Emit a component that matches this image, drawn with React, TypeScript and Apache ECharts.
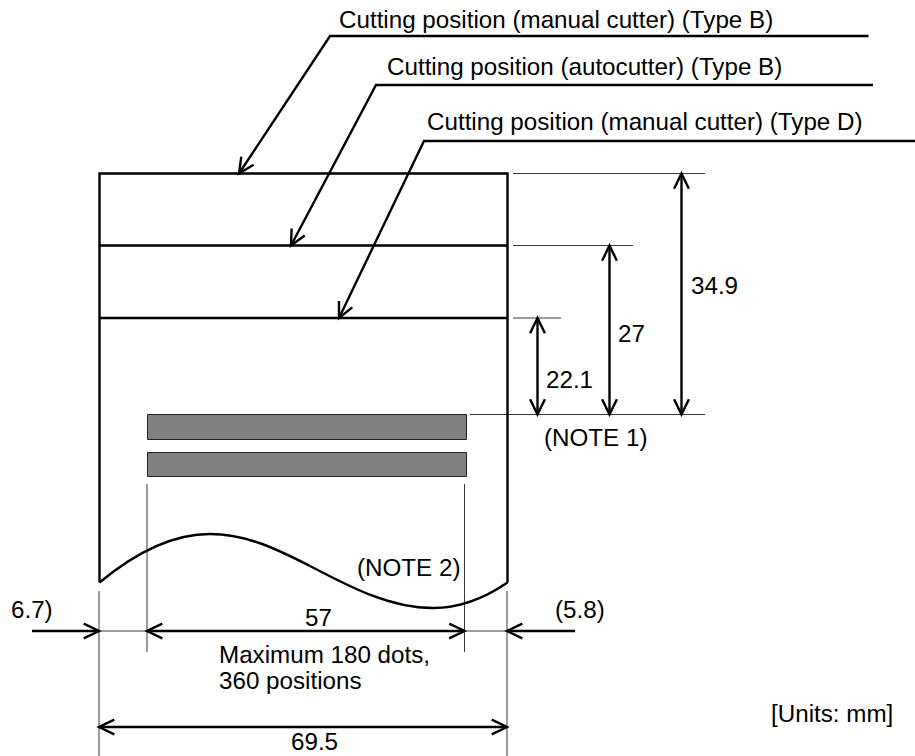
import React, { useEffect, useRef } from "react";
import * as echarts from "echarts";

type P = [number, number];

const FONT = '24.2px "Liberation Sans", Arial, sans-serif';

const labels: [string, number, number][] = [
  ["Cutting position (manual cutter) (Type B)", 339, 19.5],
  ["Cutting position (autocutter) (Type B)", 387, 66.5],
  ["Cutting position (manual cutter) (Type D)", 427, 121.5],
  ["34.9", 691, 285],
  ["27", 618, 333],
  ["22.1", 546, 379],
  ["(NOTE 1)", 544, 437],
  ["(NOTE 2)", 357, 567.5],
  ["6.7)", 11, 609],
  ["(5.8)", 555, 609],
  ["57", 305, 617.5],
  ["Maximum 180 dots,", 219, 654.5],
  ["360 positions", 219, 680],
  ["[Units: mm]", 771, 713],
  ["69.5", 291, 741],
];

const paperOutline: P[] = [[99.5, 582.5], [99.5, 173.5], [507.5, 173.5], [507.5, 582.5]];
const cutLines: P[][] = [
  [[99.5, 245.5], [507.5, 245.5]],
  [[99.5, 318], [507.5, 318]],
];
const leaders: P[][] = [
  [[868.5, 36], [330, 36], [239, 173.5]],
  [[873, 85], [376, 85], [291, 245.5]],
  [[915, 141], [424, 141], [339, 318]],
];
const extensionLines: P[][] = [
  [[513, 173.5], [705, 173.5]],
  [[513, 245.5], [633, 245.5]],
  [[513, 318], [561, 318]],
  [[470, 414.5], [705, 414.5]],
  [[147, 484], [147, 652]],
  [[464.5, 484], [464.5, 652]],
  [[99, 591], [99, 756]],
  [[507, 591], [507, 756]],
  [[99, 631], [147, 631]],
  [[465, 631], [507, 631]],
];
const dimensionsBothEnds: [P, P][] = [
  [[537.5, 318], [537.5, 414.5]],
  [[609.5, 245.5], [609.5, 414.5]],
  [[681.5, 173.5], [681.5, 414.5]],
  [[147, 631], [464.5, 631]],
  [[99, 727], [507, 727]],
];
const dimensionsOneEnd: [P, P][] = [
  [[32, 631], [99, 631]],
  [[575, 631], [507, 631]],
];
const printBars: [number, number, number, number][] = [
  [147, 414, 319, 25],
  [147, 452, 319, 24],
];
const curve: P[][] = [
  [[99.5, 582.5], [135, 553], [172, 534], [210, 534]],
  [[210, 534], [245, 534], [275, 548], [310, 566]],
  [[310, 566], [350, 587], [390, 608], [433, 608]],
  [[433, 608], [458, 608], [482, 600], [507.5, 582.5]],
];

type Item =
  | { k: "line"; pts: P[]; w: number; c: string }
  | { k: "bar"; r: number[] }
  | { k: "curve"; pts: P[] }
  | { k: "text"; t: string; x: number; y: number };

function head(tip: P, from: P): P[] {
  const a = Math.atan2(from[1] - tip[1], from[0] - tip[0]);
  const len = 17;
  const sp = 0.45;
  return [
    [tip[0] + len * Math.cos(a + sp), tip[1] + len * Math.sin(a + sp)],
    tip,
    [tip[0] + len * Math.cos(a - sp), tip[1] + len * Math.sin(a - sp)],
  ];
}

const items: Item[] = [];
const BLACK = "#000000";
const HEAVY = 2.4;
printBars.forEach((r) => items.push({ k: "bar", r }));
extensionLines.forEach((pts) => items.push({ k: "line", pts, w: 1, c: "#3a3a3a" }));
items.push({ k: "line", pts: paperOutline, w: HEAVY, c: BLACK });
cutLines.forEach((pts) => items.push({ k: "line", pts, w: HEAVY, c: BLACK }));
curve.forEach((pts) => items.push({ k: "curve", pts }));
leaders.forEach((pts) => {
  items.push({ k: "line", pts, w: HEAVY, c: BLACK });
  items.push({ k: "line", pts: head(pts[2], pts[1]), w: HEAVY, c: BLACK });
});
dimensionsBothEnds.forEach(([a, b]) => {
  items.push({ k: "line", pts: [a, b], w: HEAVY, c: BLACK });
  items.push({ k: "line", pts: head(a, b), w: HEAVY, c: BLACK });
  items.push({ k: "line", pts: head(b, a), w: HEAVY, c: BLACK });
});
dimensionsOneEnd.forEach(([a, b]) => {
  items.push({ k: "line", pts: [a, b], w: HEAVY, c: BLACK });
  items.push({ k: "line", pts: head(b, a), w: HEAVY, c: BLACK });
});
labels.forEach(([t, x, y]) => items.push({ k: "text", t, x, y }));

export default function App() {
  const ref = useRef<HTMLDivElement>(null);
  useEffect(() => {
    document.body.style.margin = "0";
    const chart = echarts.init(ref.current!, undefined, { renderer: "svg" });
    chart.setOption({
      animation: false,
      backgroundColor: "#ffffff",
      grid: { left: 0, right: 0, top: 0, bottom: 0 },
      xAxis: { type: "value", min: 0, max: 915, show: false },
      yAxis: { type: "value", min: 0, max: 756, inverse: true, show: false },
      series: [
        {
          type: "custom",
          silent: true,
          clip: false,
          coordinateSystem: "cartesian2d",
          data: items.map((_, i) => [i, i]),
          renderItem: (params: any, api: any) => {
            const it = items[params.dataIndex];
            const c = (p: P): P => api.coord(p);
            if (it.k === "line") {
              return {
                type: "polyline",
                shape: { points: it.pts.map(c) },
                style: { fill: "none", stroke: it.c, lineWidth: it.w, lineJoin: "miter" },
              };
            }
            if (it.k === "curve") {
              const [a, b, d, e] = it.pts.map(c);
              return {
                type: "bezierCurve",
                shape: { x1: a[0], y1: a[1], cpx1: b[0], cpy1: b[1], cpx2: d[0], cpy2: d[1], x2: e[0], y2: e[1] },
                style: { fill: "none", stroke: BLACK, lineWidth: HEAVY },
              };
            }
            if (it.k === "bar") {
              const [x, y] = c([it.r[0], it.r[1]]);
              return {
                type: "rect",
                shape: { x: x + 0.5, y: y + 0.5, width: it.r[2], height: it.r[3] },
                style: { fill: "#808080", stroke: "#222222", lineWidth: 1 },
              };
            }
            const [x, y] = c([it.x, it.y]);
            return {
              type: "text",
              style: { text: it.t, x, y, font: FONT, fill: "#000000", textAlign: "left", textVerticalAlign: "middle" },
            };
          },
        },
      ],
    });
    return () => chart.dispose();
  }, []);
  return <div ref={ref} style={{ width: 915, height: 756 }} />;
}
